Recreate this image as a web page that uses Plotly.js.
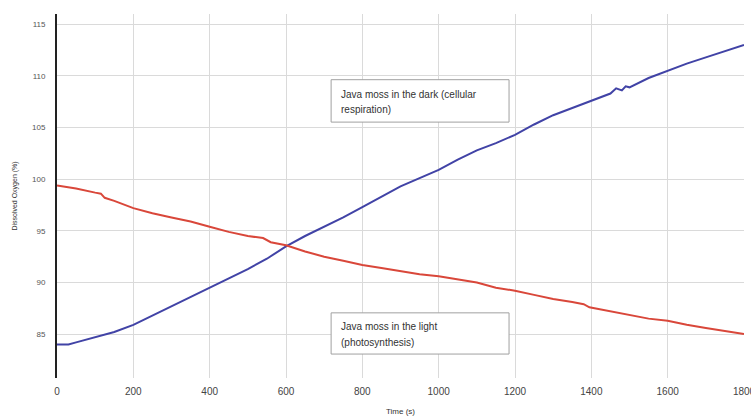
<!DOCTYPE html>
<html>
<head>
<meta charset="utf-8">
<script src="https://cdn.plot.ly/plotly-3.0.1.min.js"></script>
<style>html,body{margin:0;padding:0;background:#fff;}#chart{width:751px;height:419px;}</style>
</head>
<body>
<div id="chart"></div>
<script>
// Time (s)
const darkTime = [0, 30, 50, 100, 150, 200, 250, 300, 350, 400, 450, 500, 550, 600, 650, 700, 750, 800, 850, 900, 950, 1000, 1050, 1100, 1150, 1200, 1250, 1300, 1350, 1400, 1450, 1465, 1480, 1490, 1500, 1550, 1600, 1650, 1700, 1750, 1800];
// Dissolved oxygen (%) - Java moss in the dark (blue)
const darkOxygen = [84.0, 84.0, 84.2, 84.7, 85.2, 85.9, 86.8, 87.7, 88.6, 89.5, 90.4, 91.3, 92.3, 93.5, 94.5, 95.4, 96.3, 97.3, 98.3, 99.3, 100.1, 100.9, 101.9, 102.8, 103.5, 104.3, 105.3, 106.2, 106.9, 107.6, 108.3, 108.8, 108.6, 109.0, 108.9, 109.8, 110.5, 111.2, 111.8, 112.4, 113.0];

const lightTime = [0, 50, 100, 115, 125, 150, 200, 250, 300, 350, 400, 450, 500, 540, 560, 600, 650, 700, 750, 800, 850, 900, 950, 1000, 1050, 1100, 1150, 1200, 1250, 1300, 1350, 1380, 1395, 1450, 1500, 1550, 1600, 1650, 1700, 1750, 1800];
// Dissolved oxygen (%) - Java moss in the light (red)
const lightOxygen = [99.4, 99.1, 98.7, 98.6, 98.2, 97.9, 97.2, 96.7, 96.3, 95.9, 95.4, 94.9, 94.5, 94.3, 93.9, 93.6, 93.0, 92.5, 92.1, 91.7, 91.4, 91.1, 90.8, 90.6, 90.3, 90.0, 89.5, 89.2, 88.8, 88.4, 88.1, 87.9, 87.6, 87.2, 86.8, 86.5, 86.3, 85.9, 85.6, 85.3, 85.0];

const xTickVals = [0, 200, 400, 600, 800, 1000, 1200, 1400, 1600, 1800];
const yTickVals = [85, 90, 95, 100, 105, 110, 115];

const font = "Liberation Sans, Arial, sans-serif";

const traces = [
  {x: darkTime, y: darkOxygen, type: 'scatter', mode: 'lines', name: 'Java moss in the dark',
   line: {color: '#4143a6', width: 2}, hoverinfo: 'x+y'},
  {x: lightTime, y: lightOxygen, type: 'scatter', mode: 'lines', name: 'Java moss in the light',
   line: {color: '#d9473a', width: 2}, hoverinfo: 'x+y'}
];

const boxStyle = {type: 'rect', xref: 'paper', yref: 'paper', line: {color: '#a0a0a0', width: 1}, fillcolor: '#ffffff', layer: 'above'};
const textStyle = {xref: 'paper', yref: 'paper', xanchor: 'left', yanchor: 'middle', showarrow: false,
  font: {family: font, size: 10, color: '#333'}};

const layout = {
  width: 751, height: 419,
  margin: {l: 56.5, r: 7, t: 13.5, b: 41},
  paper_bgcolor: '#fff', plot_bgcolor: '#fff',
  showlegend: false,
  xaxis: {
    range: [0, 1800], tickvals: xTickVals, ticktext: xTickVals.map(String),
    showgrid: true, gridcolor: '#dadada', gridwidth: 1,
    zeroline: false, showline: false,
    ticks: 'outside', ticklen: 4, tickcolor: 'rgba(0,0,0,0)',
    ticklabeloverflow: 'allow',
    tickfont: {family: font, size: 10, color: '#444'},
    title: {text: 'Time (s)', font: {family: font, size: 8, color: '#333'}, standoff: 12}
  },
  yaxis: {
    range: [80.75, 116], tickvals: yTickVals, ticktext: yTickVals.map(String),
    showgrid: true, gridcolor: '#dadada', gridwidth: 1,
    zeroline: false, showline: true, linecolor: '#222', linewidth: 2,
    ticks: 'outside', ticklen: 8, tickcolor: 'rgba(0,0,0,0)',
    tickfont: {family: font, size: 8, color: '#555'},
    title: {text: 'Dissolved Oxygen (%)', font: {family: font, size: 7, color: '#333'}, standoff: 14}
  },
  shapes: [
    Object.assign({x0: 0.399, x1: 0.658, y0: 0.703, y1: 0.8195}, boxStyle),
    Object.assign({x0: 0.399, x1: 0.658, y0: 0.0658, y1: 0.179}, boxStyle)
  ],
  annotations: [
    Object.assign({x: 0.411, y: 0.779, text: 'Java moss in the dark (cellular'}, textStyle),
    Object.assign({x: 0.411, y: 0.738, text: 'respiration)'}, textStyle),
    Object.assign({x: 0.411, y: 0.1407, text: 'Java moss in the light'}, textStyle),
    Object.assign({x: 0.411, y: 0.0969, text: '(photosynthesis)'}, textStyle)
  ]
};

Plotly.newPlot('chart', traces, layout, {displayModeBar: false, staticPlot: true});
</script>
</body>
</html>
